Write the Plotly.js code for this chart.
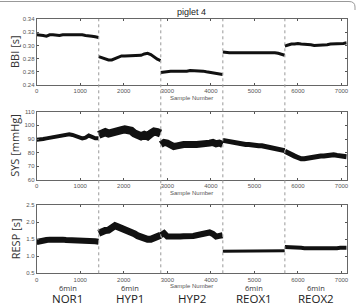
<!DOCTYPE html>
<html>
<head>
<meta charset="utf-8">
<script src="https://cdn.plot.ly/plotly-3.0.1.min.js"></script>
<style>
  html, body { margin: 0; padding: 0; background: #fff; }
  #chart { width: 357px; height: 307px; }
</style>
</head>
<body>
<div id="chart"></div>
<script>
// Recording phases (each 6 min, 1425 samples)
const phases = ["NOR1", "HYP1", "HYP2", "REOX1", "REOX2"];
const phaseNotes = ["6min", "6min", "", "6min", "6min"];
const phaseLength = 1425;
const xTicks = [0, 1000, 2000, 3000, 4000, 5000, 6000, 7000];

// Beat-to-beat interval [s], 20 readings per phase
const bbi = [
  [0.316, 0.316, 0.315, 0.314, 0.316, 0.316, 0.315, 0.315, 0.316, 0.316, 0.317, 0.317, 0.317, 0.316, 0.316, 0.315, 0.315, 0.314, 0.313, 0.312],
  [0.283, 0.281, 0.279, 0.278, 0.278, 0.280, 0.283, 0.284, 0.284, 0.284, 0.284, 0.284, 0.284, 0.285, 0.287, 0.288, 0.286, 0.282, 0.279, 0.277],
  [0.259, 0.260, 0.261, 0.261, 0.261, 0.261, 0.260, 0.260, 0.261, 0.262, 0.262, 0.262, 0.261, 0.261, 0.260, 0.259, 0.258, 0.257, 0.257, 0.256],
  [0.290, 0.289, 0.289, 0.289, 0.289, 0.290, 0.290, 0.290, 0.290, 0.290, 0.289, 0.289, 0.289, 0.289, 0.289, 0.289, 0.289, 0.288, 0.287, 0.285],
  [0.299, 0.301, 0.302, 0.302, 0.303, 0.302, 0.302, 0.301, 0.301, 0.300, 0.300, 0.300, 0.301, 0.301, 0.302, 0.302, 0.303, 0.303, 0.303, 0.304]
];

// Systolic pressure [mmHg]
const sys = [
  [89.5, 89.5, 90, 90.5, 91, 91, 91.5, 92, 92.5, 93, 93.5, 93, 92, 91.5, 90.5, 91, 92.5, 91.5, 90.5, 90.5],
  [93, 94, 95, 94, 95, 96, 96, 96.5, 97, 96.5, 96, 94, 93, 92, 93, 92, 94, 95.5, 95, 94],
  [86, 87.5, 87, 85, 84.5, 85, 86, 86, 86, 85.5, 86, 86, 86, 86, 86.5, 87, 87.5, 86.5, 87, 86],
  [89, 88.5, 88, 88, 87.5, 87, 86.5, 86, 86, 85.5, 85.5, 85, 85, 84.5, 84, 83.5, 83, 82.5, 82, 81.5],
  [81, 79.5, 78, 77.5, 76.5, 75.5, 75.5, 76, 76.5, 77, 77, 77.5, 77.5, 78, 78.5, 78.5, 78, 77.5, 77.5, 77]
];

// Respiration interval [s]
const resp = [
  [1.42, 1.45, 1.47, 1.48, 1.49, 1.50, 1.50, 1.49, 1.49, 1.48, 1.48, 1.47, 1.46, 1.47, 1.46, 1.46, 1.45, 1.45, 1.44, 1.43],
  [1.68, 1.74, 1.76, 1.77, 1.82, 1.90, 1.86, 1.83, 1.80, 1.76, 1.71, 1.66, 1.60, 1.56, 1.52, 1.50, 1.50, 1.53, 1.58, 1.62],
  [1.62, 1.68, 1.58, 1.57, 1.58, 1.58, 1.58, 1.59, 1.58, 1.60, 1.60, 1.62, 1.64, 1.65, 1.67, 1.70, 1.66, 1.58, 1.60, 1.62],
  [1.15, 1.15, 1.16, 1.15, 1.16, 1.16, 1.16, 1.17, 1.16, 1.16, 1.17, 1.17, 1.17, 1.17, 1.16, 1.17, 1.17, 1.17, 1.17, 1.16],
  [1.27, 1.27, 1.26, 1.26, 1.25, 1.25, 1.24, 1.24, 1.23, 1.23, 1.22, 1.22, 1.23, 1.23, 1.24, 1.24, 1.24, 1.25, 1.25, 1.25]
];

// ---- layout helpers (figure is 357 x 307 px, zero margins) ----
const W = 357, H = 307;
const px = v => v / W;
const py = v => 1 - v / H;

const xDomain = [px(36.7), px(346.7)];
const panels = [
  { key: "", series: bbi, widths: [3, 3, 3, 3, 3], top: 19, bottom: 85, range: [0.24, 0.34], dtick: 0.02, fmt: ".2f", label: "BBI [s]" },
  { key: "2", series: sys, widths: [4, 8, 7, 5, 5], top: 111.7, bottom: 180, range: [60, 110], dtick: 10, fmt: "d", label: "SYS [mmHg]" },
  { key: "3", series: resp, widths: [6, 7, 6, 3, 4], top: 205.3, bottom: 273.3, range: [0.5, 2.5], dtick: 0.5, fmt: ".1f", label: "RESP [s]" }
];

const tickFont = { family: "Liberation Sans, Arial, sans-serif", size: 6, color: "#555" };
const labelFont = { family: "Open Sans, sans-serif", size: 11, color: "#333" };

// centred text placed in pixel-derived paper units
function note(text, x, y, font, extra) {
  return Object.assign({
    text: text, xref: "paper", yref: "paper", x: x, y: y,
    xanchor: "center", yanchor: "middle", showarrow: false, borderpad: 0, font: font
  }, extra || {});
}

const traces = [];
const layout = {
  width: W, height: H,
  margin: { l: 0, r: 0, t: 0, b: 0 },
  paper_bgcolor: "#fff", plot_bgcolor: "#fff",
  showlegend: false,
  annotations: [],
  shapes: []
};

panels.forEach(p => {
  p.series.forEach((vals, k) => {
    const start = k * phaseLength;
    const xs = vals.map((_, i) => start + i * (phaseLength - 5) / (vals.length - 1));
    traces.push({
      x: xs, y: vals, type: "scatter", mode: "lines",
      xaxis: "x" + p.key, yaxis: "y" + p.key,
      line: { color: "#111", width: p.widths[k] },
      hoverinfo: "skip"
    });
  });

  layout["xaxis" + p.key] = {
    domain: xDomain, anchor: "y" + p.key,
    range: [0, 7120], tickvals: xTicks, ticktext: xTicks.map(String),
    ticks: "inside", ticklen: 2, tickcolor: "#555", mirror: "ticks",
    showline: true, linecolor: "#666", linewidth: 1,
    showgrid: false, zeroline: false, tickfont: tickFont, fixedrange: true
  };
  layout["yaxis" + p.key] = {
    domain: [py(p.bottom), py(p.top)], anchor: "x" + p.key,
    range: p.range, dtick: p.dtick, tick0: p.range[0], tickformat: p.fmt,
    ticks: "inside", ticklen: 2, tickcolor: "#555", mirror: "ticks",
    showline: true, linecolor: "#666", linewidth: 1,
    showgrid: false, zeroline: false, tickfont: tickFont, fixedrange: true
  };

  // axis captions
  layout.annotations.push(note(p.label, px(15), py((p.top + p.bottom) / 2), labelFont, { textangle: -90 }));
  layout.annotations.push(note("Sample Number", (xDomain[0] + xDomain[1]) / 2, py(p.bottom + 13),
    { family: "Liberation Sans, Arial, sans-serif", size: 6, color: "#555" }));
});

// title
layout.annotations.push(note("piglet 4", (xDomain[0] + xDomain[1]) / 2, py(11.5),
  { family: "Liberation Sans, Arial, sans-serif", size: 9, color: "#222" }));

// phase names along the bottom
phases.forEach((name, k) => {
  const cx = (k + 0.5) * phaseLength;
  if (phaseNotes[k]) {
    layout.annotations.push(note(phaseNotes[k], cx, py(287.5),
      { family: "Open Sans, sans-serif", size: 7.5, color: "#333" }, { xref: "x3" }));
  }
  layout.annotations.push(note(name, cx, py(298.5),
    { family: "Open Sans, sans-serif", size: 11.5, color: "#222" }, { xref: "x3" }));
  // phase boundaries running through all three panels
  if (k > 0) {
    layout.shapes.push({
      type: "line", xref: "x", yref: "paper",
      x0: k * phaseLength, x1: k * phaseLength, y0: py(273.3), y1: py(19),
      line: { color: "#999", width: 1, dash: "dot" }, layer: "above"
    });
  }
});

// thin frame along the top edge
layout.shapes.push({
  type: "path", xref: "paper", yref: "paper",
  path: `M ${px(0)} ${py(1.5)} L ${px(349)} ${py(1.5)} Q ${px(355)} ${py(1.5)} ${px(355)} ${py(7)} L ${px(355)} ${py(10)}`,
  line: { color: "#999", width: 1 }
});

Plotly.newPlot("chart", traces, layout, { staticPlot: true, displayModeBar: false });
</script>
</body>
</html>
